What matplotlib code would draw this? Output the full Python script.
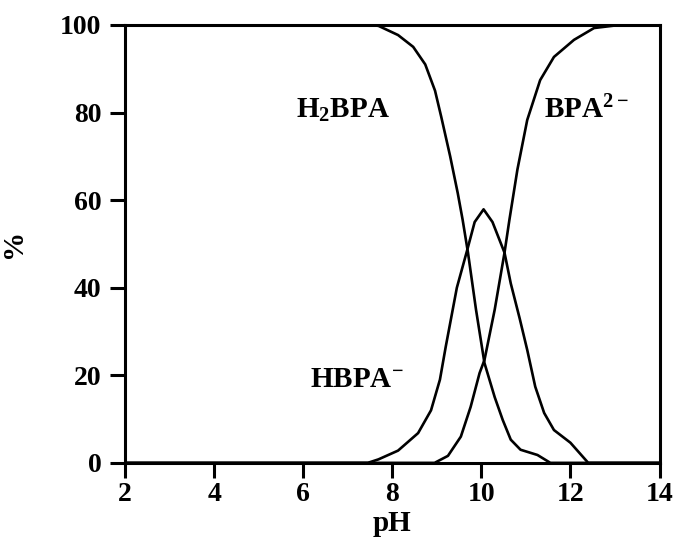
import matplotlib
matplotlib.use('Agg')
import matplotlib.pyplot as plt

plt.rcParams['font.family'] = ['Liberation Serif', 'DejaVu Serif']
plt.rcParams['font.weight'] = 'bold'
plt.rcParams['mathtext.fontset'] = 'custom'
plt.rcParams['mathtext.rm'] = 'Liberation Serif:bold'
plt.rcParams['mathtext.it'] = 'Liberation Serif:bold'
plt.rcParams['mathtext.bf'] = 'Liberation Serif:bold'
plt.rcParams['mathtext.default'] = 'rm'

# speciation (pH, %)
ph_h2bpa = [2, 7.5, 7.69, 8.13, 8.47, 8.74, 8.96, 9.1, 9.3, 9.47, 9.58, 9.7,
            9.88, 10.07, 10.3, 10.48, 10.66, 10.88, 11.26, 11.55, 14]
h2bpa = [100, 100, 99.8, 97.7, 95, 91, 85, 79, 70, 61.6, 55.5, 48,
         35, 22.8, 15, 9.8, 5.3, 3, 1.8, 0, 0]

ph_hbpa = [2, 7.45, 7.69, 8.13, 8.58, 8.87, 9.07, 9.2, 9.45, 9.68, 9.85, 10.05,
           10.25, 10.52, 10.66, 10.86, 11.03, 11.21, 11.41, 11.63, 12.0, 12.4, 14]
hbpa = [0, 0, 0.8, 2.8, 6.8, 12, 19, 26.5, 40, 48.5, 55, 57.9,
        55, 48, 41, 33, 25.8, 17.4, 11.4, 7.5, 4.6, 0, 0]

ph_bpa = [2, 8.95, 9.25, 9.54, 9.76, 9.96, 10.07, 10.3, 10.52, 10.63, 10.81,
          11.03, 11.32, 11.63, 12.08, 12.53, 13.1, 14]
bpa = [0, 0, 1.6, 6, 12.8, 20.5, 23.5, 35, 48, 55.5, 67,
       78.3, 87.4, 92.7, 96.6, 99.3, 100, 100]

xticks = [2, 4, 6, 8, 10, 12, 14]
yticks = [0, 20, 40, 60, 80, 100]

fig = plt.figure(figsize=(6.74, 5.55), dpi=100)
ax = fig.add_axes([0.1855, 0.166, 0.793, 0.789])

for x, y in [(ph_h2bpa, h2bpa), (ph_hbpa, hbpa), (ph_bpa, bpa)]:
    ax.plot(x, y, color='black', lw=1.9, solid_joinstyle='round')

ax.set_xlim(2, 14)
ax.set_ylim(0, 100)
ax.set_xticks(xticks)
ax.set_yticks(yticks)
ax.tick_params(direction='out', length=11, width=2.2, labelsize=20, color='black')
ax.tick_params(axis='y', pad=6)
ax.tick_params(axis='x', pad=3)
for s in ax.spines.values():
    s.set_linewidth(2.2)

ax.set_xlabel('pH', fontsize=21, fontweight='bold', labelpad=2)
ax.set_ylabel('%', fontsize=21, fontweight='bold', labelpad=24)

ax.text(6.9, 80.5, 'H$_2$BPA', fontsize=21, ha='center', va='center')
ax.text(12.35, 80.5, 'BPA$^{2\u2212}$', fontsize=21, ha='center', va='center')
ax.text(7.2, 19, 'HBPA$^{\u2212}$', fontsize=21, ha='center', va='center')

fig.savefig('out.png', dpi=100)
